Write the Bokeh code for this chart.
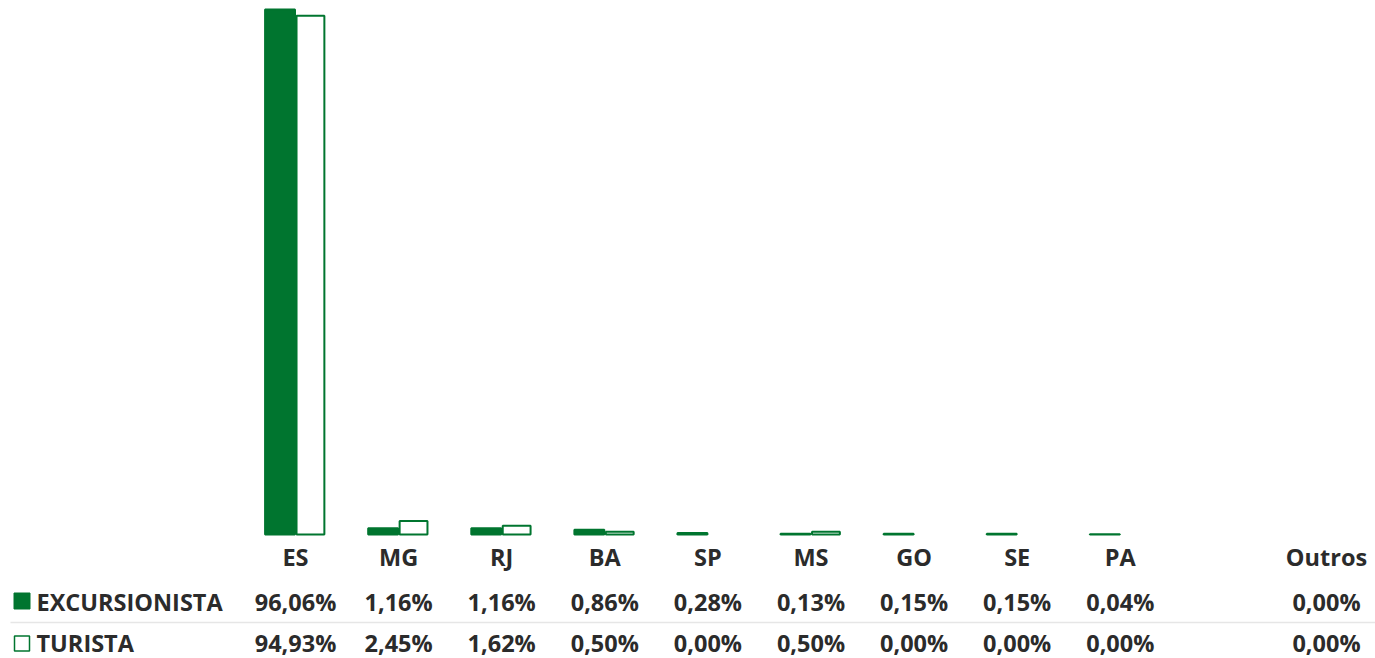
from bokeh.plotting import figure
from bokeh.models import ColumnDataSource, Range1d
from bokeh.core.properties import value
from bokeh.embed import file_html
from bokeh.resources import INLINE

# ---- data ----
categories = ["ES", "MG", "RJ", "BA", "SP", "MS", "GO", "SE", "PA", "", "Outros"]
excursionista = [96.06, 1.16, 1.16, 0.86, 0.28, 0.13, 0.15, 0.15, 0.04, None, 0.00]
turista = [94.93, 2.45, 1.62, 0.50, 0.00, 0.50, 0.00, 0.00, 0.00, None, 0.00]
series_names = ["EXCURSIONISTA", "TURISTA"]

# ---- style / layout ----
GREEN = "#00752F"
TEXT = "#2b2b2b"
FONT = value("Open Sans")
FS = "23.5px"
FSTYLE = "bold"
W, H = 1375, 658
STEP = 103.1          # px per category
C0 = 295              # px centre of first category
BASE = 534            # px baseline
PXU = (BASE - 9) / 96.06

x0 = -C0 / STEP
x1 = (W - C0) / STEP
y1 = BASE / PXU
y0 = -(H - BASE) / PXU

p = figure(width=W, height=H, output_backend="svg", toolbar_location=None,
           x_range=Range1d(x0, x1), y_range=Range1d(y0, y1),
           min_border=0, min_border_left=0, min_border_right=0,
           min_border_top=0, min_border_bottom=0)
p.axis.visible = False
p.grid.visible = False
p.outline_line_color = None
p.background_fill_color = "white"
p.border_fill_color = "white"
p.extra_x_ranges = {"px": Range1d(0, W)}
p.extra_y_ranges = {"px": Range1d(H, 0)}


def fmt(v):
    return f"{v:.2f}".replace(".", ",") + "%"


idx = [i for i, v in enumerate(excursionista) if v is not None]

exc_src = ColumnDataSource(dict(
    x=[i - 0.15 for i in idx],
    top=[excursionista[i] for i in idx],
    a=[1.0 if excursionista[i] > 0 else 0.0 for i in idx],
))
tur_src = ColumnDataSource(dict(
    x=[i + 0.145 for i in idx],
    top=[turista[i] for i in idx],
    a=[1.0 if turista[i] > 0 else 0.0 for i in idx],
))

p.vbar(x="x", top="top", bottom=0, width=0.29, source=exc_src,
       fill_color=GREEN, line_color=GREEN, line_width=2,
       fill_alpha="a", line_alpha="a")
p.vbar(x="x", top="top", bottom=0, width=0.27, source=tur_src,
       fill_color="white", line_color=GREEN, line_width=2,
       fill_alpha="a", line_alpha="a")

# ---- data table ----
ROW_CAT, ROW_EXC, ROW_TUR = 556, 601, 642

cat_src = ColumnDataSource(dict(x=list(range(len(categories))), t=categories))
p.text(x="x", y=ROW_CAT, text="t", source=cat_src, y_range_name="px",
       text_align="center", text_baseline="middle", text_font_style=FSTYLE,
       text_font=FONT, text_font_size=FS, text_color=TEXT)

for vals, row in ((excursionista, ROW_EXC), (turista, ROW_TUR)):
    s = ColumnDataSource(dict(x=idx, t=[fmt(vals[i]) for i in idx]))
    p.text(x="x", y=row, text="t", source=s, y_range_name="px",
           text_align="center", text_baseline="middle", text_font_style=FSTYLE,
           text_font=FONT, text_font_size=FS, text_color=TEXT)

# row separator
p.segment(x0=10, y0=622, x1=W, y1=622, x_range_name="px", y_range_name="px",
          line_color="#e6e6e6", line_width=1.5)

# row headers with legend keys
p.rect(x=21.5, y=600.5, width=16, height=16, x_range_name="px",
       y_range_name="px", fill_color=GREEN, line_color=GREEN, line_width=1)
p.rect(x=21.5, y=643, width=15, height=15, x_range_name="px",
       y_range_name="px", fill_color="white", line_color=GREEN, line_width=1.5)
p.text(x=[36, 36], y=[ROW_EXC, ROW_TUR], text=series_names,
       x_range_name="px", y_range_name="px",
       text_align="left", text_baseline="middle", text_font_style=FSTYLE,
       text_font=FONT, text_font_size=FS, text_color=TEXT)

open("out.html", "w").write(file_html(p, INLINE))
